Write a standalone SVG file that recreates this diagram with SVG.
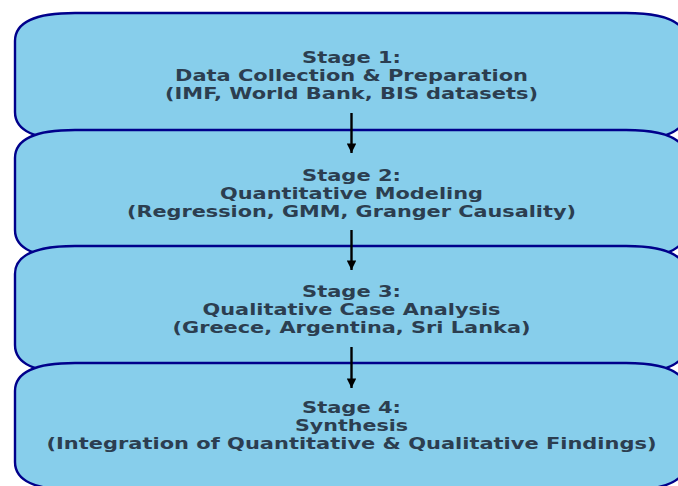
<svg xmlns="http://www.w3.org/2000/svg" width="678" height="486" viewBox="0 0 678 486">
  <style>
    .box { fill: #87CEEB; stroke: #00008B; stroke-width: 2.4; }
    .lbl { font-family: "DejaVu Sans", "Liberation Sans", sans-serif; font-weight: bold; font-size: 15.5px; fill: #2c3e50; text-anchor: middle; }
    .arrow { stroke: #000; stroke-width: 2.4; fill: none; }
  </style>
  <defs>
    <marker id="head" viewBox="0 0 10 10" refX="10" refY="5" markerWidth="4" markerHeight="4" orient="auto" markerUnits="strokeWidth">
      <path d="M0,0 L10,5 L0,10 Z" fill="#000"/>
    </marker>
  </defs>
  <rect width="678" height="486" fill="#ffffff"/>

  <g id="stage1">
    <path class="box" d="M75,13 H626 Q686,13 686,41 V112 Q686,140 626,140 H75 Q15,140 15,112 V41 Q15,13 75,13 Z"/>
    <text class="lbl" x="351.5" y="63" textLength="99" lengthAdjust="spacingAndGlyphs">Stage 1:</text>
    <text class="lbl" x="351.5" y="81" textLength="353" lengthAdjust="spacingAndGlyphs">Data Collection &amp; Preparation</text>
    <text class="lbl" x="351.5" y="99" textLength="373" lengthAdjust="spacingAndGlyphs">(IMF, World Bank, BIS datasets)</text>
  </g>

  <g id="stage2">
    <path class="box" d="M75,130 H626 Q686,130 686,158 V230 Q686,258 626,258 H75 Q15,258 15,230 V158 Q15,130 75,130 Z"/>
    <text class="lbl" x="351.5" y="181" textLength="99" lengthAdjust="spacingAndGlyphs">Stage 2:</text>
    <text class="lbl" x="351.5" y="199" textLength="263" lengthAdjust="spacingAndGlyphs">Quantitative Modeling</text>
    <text class="lbl" x="351.5" y="217" textLength="449" lengthAdjust="spacingAndGlyphs">(Regression, GMM, Granger Causality)</text>
  </g>

  <g id="stage3">
    <path class="box" d="M75,246 H626 Q686,246 686,274 V345 Q686,373 626,373 H75 Q15,373 15,345 V274 Q15,246 75,246 Z"/>
    <text class="lbl" x="351.5" y="297" textLength="99" lengthAdjust="spacingAndGlyphs">Stage 3:</text>
    <text class="lbl" x="351.5" y="315" textLength="298" lengthAdjust="spacingAndGlyphs">Qualitative Case Analysis</text>
    <text class="lbl" x="351.5" y="333" textLength="358" lengthAdjust="spacingAndGlyphs">(Greece, Argentina, Sri Lanka)</text>
  </g>

  <g id="stage4">
    <path class="box" d="M75,363 H626 Q686,363 686,391 V462 Q686,490 626,490 H75 Q15,490 15,462 V391 Q15,363 75,363 Z"/>
    <text class="lbl" x="351.5" y="413" textLength="99" lengthAdjust="spacingAndGlyphs">Stage 4:</text>
    <text class="lbl" x="351.5" y="431" textLength="113" lengthAdjust="spacingAndGlyphs">Synthesis</text>
    <text class="lbl" x="351.5" y="449" textLength="610" lengthAdjust="spacingAndGlyphs">(Integration of Quantitative &amp; Qualitative Findings)</text>
  </g>

  <g id="connectors">
    <line class="arrow" x1="351.5" y1="113" x2="351.5" y2="153" marker-end="url(#head)"/>
    <line class="arrow" x1="351.5" y1="230" x2="351.5" y2="270" marker-end="url(#head)"/>
    <line class="arrow" x1="351.5" y1="347" x2="351.5" y2="388" marker-end="url(#head)"/>
  </g>
</svg>
